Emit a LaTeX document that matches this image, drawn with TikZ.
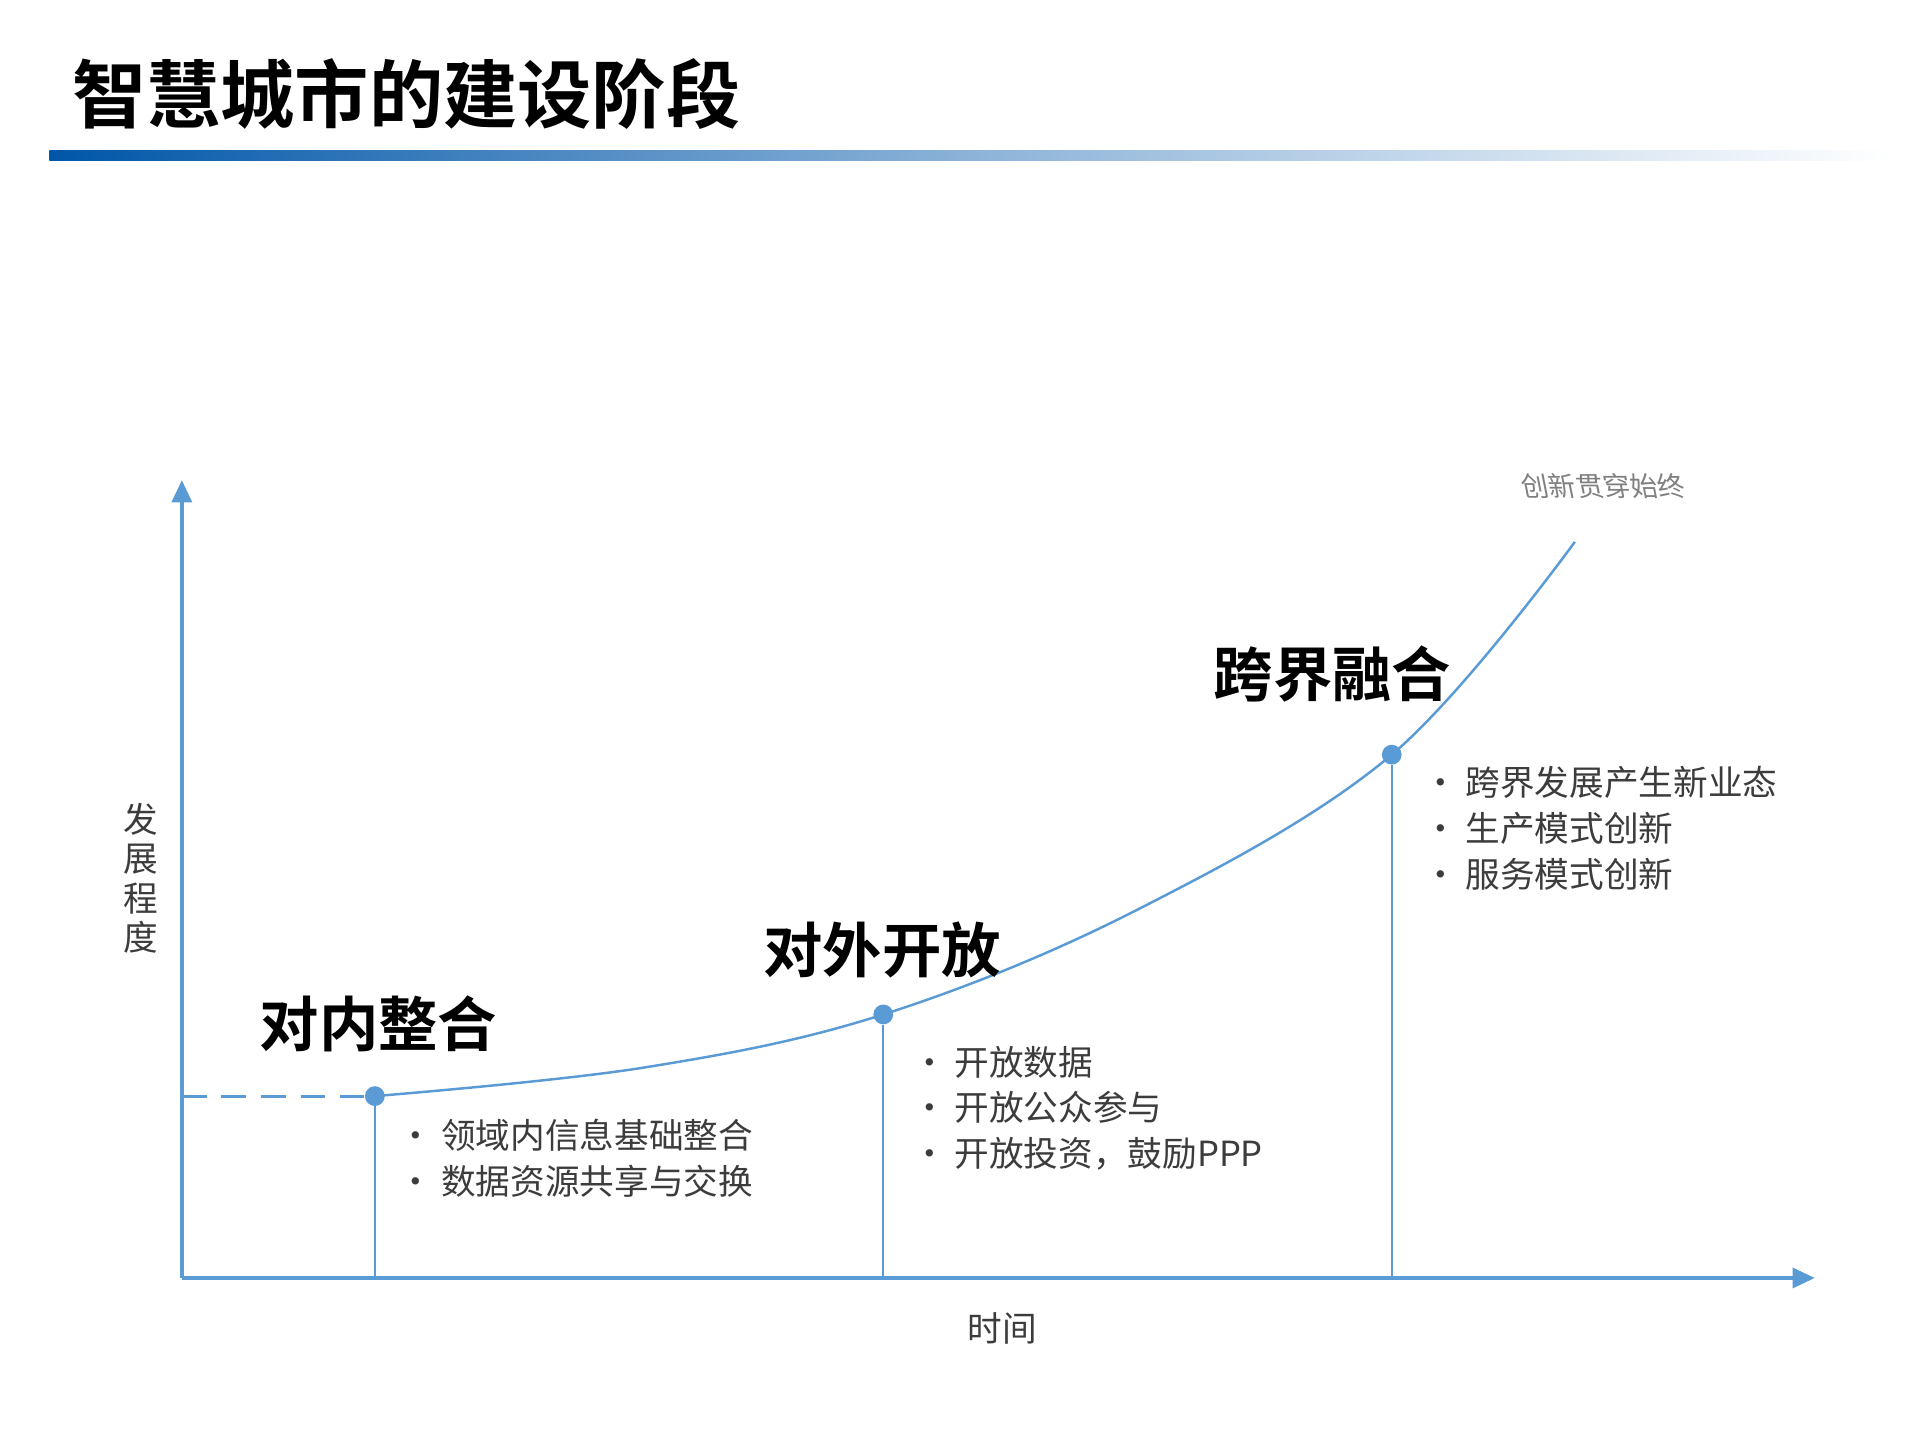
\documentclass[tikz,border=0pt]{standalone}
\usepackage{fontspec}
\setmainfont{Noto Sans CJK SC}
\newfontfamily\cjkb{Noto Sans CJK SC Bold}
\usetikzlibrary{arrows.meta}
\definecolor{ax}{RGB}{91,155,213}
\definecolor{tb}{RGB}{0,86,168}
\definecolor{tx}{RGB}{60,60,60}
\begin{document}
\begin{tikzpicture}[x=0.5pt,y=-0.5pt,
  axis/.style={draw=ax,line width=1.6pt,-{Triangle[length=9pt,width=8pt]}},
  stage/.style={font=\cjkb\fontsize{24}{28}\selectfont,text=black},
  bul/.style={font=\fontsize{14}{18.5}\selectfont,text=tx,align=left,anchor=north west,inner sep=0pt},
  dot/.style={circle,fill=ax,inner sep=0pt,minimum size=8pt}]
\useasboundingbox (0,0) rectangle (1552,1164);
\node[font=\cjkb\fontsize{30}{34}\selectfont,anchor=west,inner sep=0pt] (title) at (58,76) {智慧城市的建设阶段};
\shade[left color=tb,right color=white,middle color=tb!45] (40,122) rectangle (1530,130);
\coordinate (o) at (147,1033);
\coordinate (ytop) at (147,388);
\coordinate (xend) at (1467,1033);
\draw[axis] (o) -- (ytop);
\draw[axis] (o) -- (xend);
\node[dot] (p1) at (303,886) {};
\node[dot] (p2) at (714,820) {};
\node[dot] (p3) at (1125,610) {};
\coordinate (b1) at (303,1033);
\coordinate (b2) at (714,1033);
\coordinate (b3) at (1125,1033);
\coordinate (d0) at (147,886);
\draw[ax,line width=1.2pt,dashed,dash pattern=on 10pt off 6pt] (d0) -- (p1);
\draw[ax,line width=0.8pt] (p1) -- (b1) (p2) -- (b2) (p3) -- (b3);
\draw[ax,line width=1pt] plot[smooth,tension=0.6] coordinates {(303,886) (520,863) (714,820) (920,735) (1125,610) (1273,438)};
\node[stage] (s1) at (306,828) {对内整合};
\node[stage] (s2) at (713,768) {对外开放};
\node[stage] (s3) at (1077,545) {跨界融合};
\node[bul] (t1) at (322,904) {· 领域内信息基础整合\\· 数据资源共享与交换};
\node[bul] (t2) at (737,845) {· 开放数据\\· 开放公众参与\\· 开放投资，鼓励PPP};
\node[bul] (t3) at (1150,619) {· 跨界发展产生新业态\\· 生产模式创新\\· 服务模式创新};
\node[font=\fontsize{11}{13}\selectfont,text=gray,xslant=-0.2] (inn) at (1296,393) {创新贯穿始终};
\node[font=\fontsize{14}{16}\selectfont,text=tx,align=center] (yl) at (114,710) {发\\展\\程\\度};
\node[font=\fontsize{14}{16}\selectfont,text=tx] (xl) at (810,1074) {时间};
\end{tikzpicture}
\end{document}
